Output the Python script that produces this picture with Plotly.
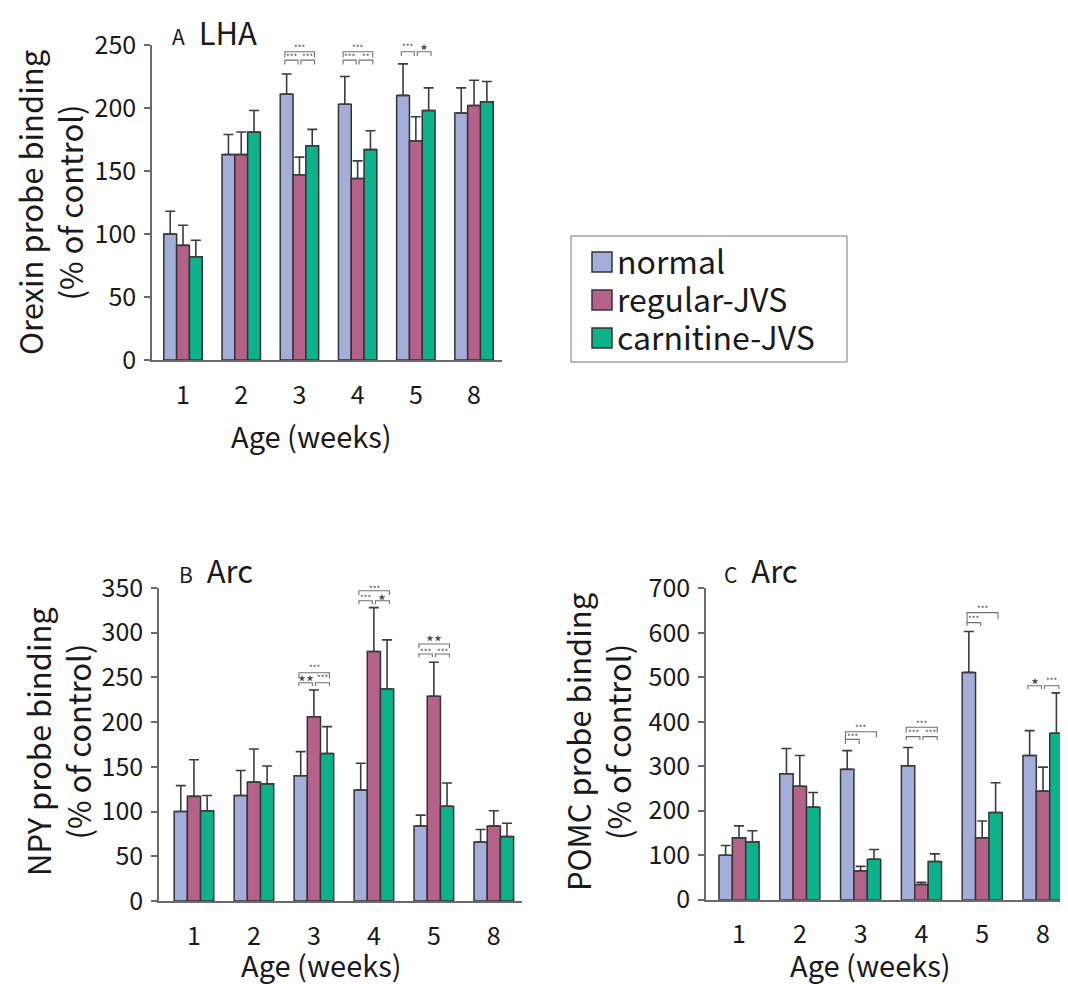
import plotly.graph_objects as go

# ---------------- data ----------------
weeks = ["1", "2", "3", "4", "5", "8"]
groups = ["normal", "regular-JVS", "carnitine-JVS"]

orexin_normal = [100, 163, 211, 203, 210, 196]
orexin_normal_err = [18, 16, 16, 22, 25, 20]
orexin_regular = [91, 163, 147, 144, 174, 202]
orexin_regular_err = [16, 18, 14, 14, 19, 20]
orexin_carnitine = [82, 181, 170, 167, 198, 205]
orexin_carnitine_err = [13, 17, 13, 15, 18, 16]

npy_normal = [100, 118, 140, 124, 84, 66]
npy_normal_err = [29, 28, 27, 30, 12, 14]
npy_regular = [117, 133, 206, 279, 229, 84]
npy_regular_err = [41, 37, 30, 49, 38, 17]
npy_carnitine = [101, 131, 165, 237, 106, 72]
npy_carnitine_err = [17, 20, 30, 55, 26, 15]

pomc_normal = [100, 283, 293, 301, 511, 324]
pomc_normal_err = [22, 57, 42, 41, 92, 56]
pomc_regular = [139, 255, 65, 34, 139, 244]
pomc_regular_err = [27, 69, 10, 5, 38, 54]
pomc_carnitine = [130, 208, 91, 86, 196, 374]
pomc_carnitine_err = [25, 33, 22, 17, 67, 91]

# significance brackets:
# (week index, bar i, bar j, label, large?, top, left-tick bottom, right-tick bottom, label y)
sig_orexin = [
    (2, 0, 2, "***", False, 244.7, 240.0, 240.0, 248.3),
    (2, 0, 1, "***", False, 238.0, 234.5, 234.5, 240.5),
    (2, 1, 2, "***", False, 238.0, 234.5, 234.5, 240.5),
    (3, 0, 2, "***", False, 244.7, 240.0, 240.0, 248.3),
    (3, 0, 1, "***", False, 238.0, 234.5, 234.5, 240.5),
    (3, 1, 2, "**", False, 238.0, 234.5, 234.5, 240.5),
    (4, 0, 1, "***", False, 244.7, 241.3, 241.3, 248.5),
    (4, 1, 2, "*", True, 244.7, 241.3, 241.3, 248.5),
]
sig_npy = [
    (2, 0, 2, "***", False, 255.2, 249.0, 249.0, 260.9),
    (2, 0, 1, "**", True, 244.0, 240.4, 240.4, 250.0),
    (2, 1, 2, "***", False, 244.0, 240.4, 240.4, 250.0),
    (3, 0, 2, "***", False, 347.0, 342.2, 342.2, 349.6),
    (3, 0, 1, "***", False, 335.8, 332.1, 332.1, 339.5),
    (3, 1, 2, "*", True, 335.8, 332.1, 332.1, 340.0),
    (4, 0, 2, "**", True, 287.4, 282.5, 282.5, 294.4),
    (4, 0, 1, "***", False, 276.2, 272.5, 272.5, 279.5),
    (4, 1, 2, "***", False, 276.2, 272.5, 272.5, 279.5),
]
sig_pomc = [
    (2, 0, 2, "***", False, 377.7, 360.5, 365.0, 386.7),
    (2, 0, 1, "***", False, 360.5, 350.0, 350.0, 366.5),
    (3, 0, 2, "***", False, 387.5, 375.5, 375.5, 395.6),
    (3, 0, 1, "***", False, 366.5, 359.0, 359.0, 375.5),
    (3, 1, 2, "***", False, 366.5, 359.0, 359.0, 375.5),
    (4, 0, 2, "***", False, 645.3, 622.8, 630.4, 655.0),
    (4, 0, 1, "***", False, 622.8, 615.3, 615.3, 631.7),
    (5, 0, 1, "*", True, 481.0, 473.6, 473.6, 492.3),
    (5, 1, 2, "***", False, 481.0, 473.6, 473.6, 492.0),
]

# ---------------- style ----------------
PAGE_OFF = 8                      # default page margin around the plot div
W, H = 1068 - PAGE_OFF, 984 - PAGE_OFF
FONT = "Noto Sans CJK JP"
colors = ["#a3afda", "#b5628b", "#0bb28a"]
edge = "#333333"
axis_col = "#6a6a6a"
txt = "#1a1a1a"
BARGAP = 0.34
bar_w = (1 - BARGAP) / 3


def px(x):
    return (x - PAGE_OFF) / W


def py(y):
    return 1 - (y - PAGE_OFF) / H


panels = [
    dict(ax="", vals=[orexin_normal, orexin_regular, orexin_carnitine],
         errs=[orexin_normal_err, orexin_regular_err, orexin_carnitine_err],
         sig=sig_orexin, xdom=[152, 502], ydom=[360, 45], xr=[-0.533, 5.48],
         yr=[0, 250], dtick=50),
    dict(ax="2", vals=[npy_normal, npy_regular, npy_carnitine],
         errs=[npy_normal_err, npy_regular_err, npy_carnitine_err],
         sig=sig_npy, xdom=[159, 522], ydom=[901, 588], xr=[-0.583, 5.47],
         yr=[0, 350], dtick=50),
    dict(ax="3", vals=[pomc_normal, pomc_regular, pomc_carnitine],
         errs=[pomc_normal_err, pomc_regular_err, pomc_carnitine_err],
         sig=sig_pomc, xdom=[706, 1064], ydom=[899.7, 588.3], xr=[-0.543, 5.345],
         yr=[0, 700], dtick=100),
]

fig = go.Figure()
xpos = list(range(len(weeks)))
shapes = []
annotations = []

for p in panels:
    for k in range(3):
        fig.add_trace(go.Bar(
            x=xpos, y=p["vals"][k], name=groups[k],
            xaxis="x" + p["ax"], yaxis="y" + p["ax"],
            marker=dict(color=colors[k], line=dict(color=edge, width=1.5)),
            error_y=dict(type="data", array=p["errs"][k], symmetric=False,
                         arrayminus=[0] * len(weeks), color="#3c3c3c",
                         thickness=1.6, width=5),
            showlegend=False,
        ))
    xa = "x" + p["ax"]
    ya = "y" + p["ax"]
    for (wk, i, j, lab, big, top, lb, rb, ly) in p["sig"]:
        ci = wk + (i - 1) * bar_w
        cj = wk + (j - 1) * bar_w
        x0 = ci + (-0.03 if i == 0 else 0.025)
        x1 = cj + (-0.025 if j == 1 else 0.04)
        shapes.append(dict(type="path", xref=xa, yref=ya,
                           path=f"M {x0},{lb} L {x0},{top} L {x1},{top} L {x1},{rb}",
                           line=dict(color="#707070", width=1.1)))
        annotations.append(dict(
            x=(x0 + x1) / 2, y=ly, xref=xa, yref=ya, text=lab, showarrow=False,
            font=dict(family=FONT, size=17 if big else 8, color="#444444"),
            xanchor="center", yanchor="middle", yshift=-4 if big else 0,
        ))

# legend (drawn as a boxed key)
shapes.append(dict(type="rect", xref="paper", yref="paper",
                   x0=px(571), x1=px(847), y0=py(362), y1=py(236),
                   line=dict(color="#777777", width=1), fillcolor="white", layer="below"))
legend_rows = [262, 300, 338]
for k, yy in enumerate(legend_rows):
    shapes.append(dict(type="rect", xref="paper", yref="paper",
                       x0=px(592), x1=px(612), y0=py(yy + 10), y1=py(yy - 10),
                       line=dict(color="#333333", width=1.5), fillcolor=colors[k]))
    annotations.append(dict(text=groups[k], x=px(615), y=py(yy - 2), xref="paper",
                            yref="paper", showarrow=False, xanchor="left",
                            yanchor="middle", font=dict(family=FONT, size=32, color=txt)))

axis_common = dict(showgrid=False, zeroline=False, showline=True,
                   linecolor=axis_col, linewidth=1.5, automargin=False)

layout = dict(
    width=W, height=H, margin=dict(l=0, r=0, t=0, b=0, autoexpand=False),
    paper_bgcolor="white", plot_bgcolor="white",
    barmode="group", bargap=BARGAP, bargroupgap=0,
    font=dict(family=FONT, color=txt),
    showlegend=False,
)

for p in panels:
    sfx = p["ax"]
    layout["xaxis" + sfx] = dict(
        **axis_common, domain=[px(p["xdom"][0]), px(p["xdom"][1])],
        range=p["xr"], tickmode="array", tickvals=xpos, ticktext=weeks,
        ticks="", ticklabelstandoff=12,
        tickfont=dict(family=FONT, size=25, color=txt),
        anchor="y" + sfx, fixedrange=True,
    )
    layout["yaxis" + sfx] = dict(
        **axis_common, domain=[py(p["ydom"][0]), py(p["ydom"][1])],
        range=p["yr"], dtick=p["dtick"], tick0=0, ticks="outside",
        ticklen=6, tickwidth=1.5, tickcolor=axis_col, ticklabelstandoff=3,
        tickfont=dict(family=FONT, size=25, color=txt),
        anchor="x" + sfx, fixedrange=True,
    )

# axis titles and panel labels
ytitles = [
    ("Orexin probe binding<br>(% of control)", 50, 202),
    ("NPY probe binding<br>(% of control)", 57, 742),
    ("POMC probe binding<br>(% of control)", 597, 742),
]
for t, x, y in ytitles:
    annotations.append(dict(text=t, x=px(x), y=py(y), xref="paper", yref="paper",
                            showarrow=False, textangle=-90, xanchor="center",
                            yanchor="middle", font=dict(family=FONT, size=31, color=txt)))

xtitles = [(311, 435), (321, 964), (870, 964)]
for x, y in xtitles:
    annotations.append(dict(text="Age (weeks)", x=px(x), y=py(y), xref="paper",
                            yref="paper", showarrow=False, xanchor="center",
                            yanchor="middle", font=dict(family=FONT, size=29, color=txt)))

plabels = [("A", "LHA", 170, 31), ("B", "Arc", 177, 569), ("C", "Arc", 722, 569)]
for a, b, x, y in plabels:
    annotations.append(dict(
        text=f"<span style='font-size:21px'>{a}</span>&nbsp;&nbsp;{b}",
        x=px(x), y=py(y), xref="paper", yref="paper", showarrow=False,
        xanchor="left", yanchor="middle", font=dict(family=FONT, size=31, color=txt)))

layout["shapes"] = shapes
layout["annotations"] = annotations
fig.update_layout(**layout)

fig.write_html("out.html")
